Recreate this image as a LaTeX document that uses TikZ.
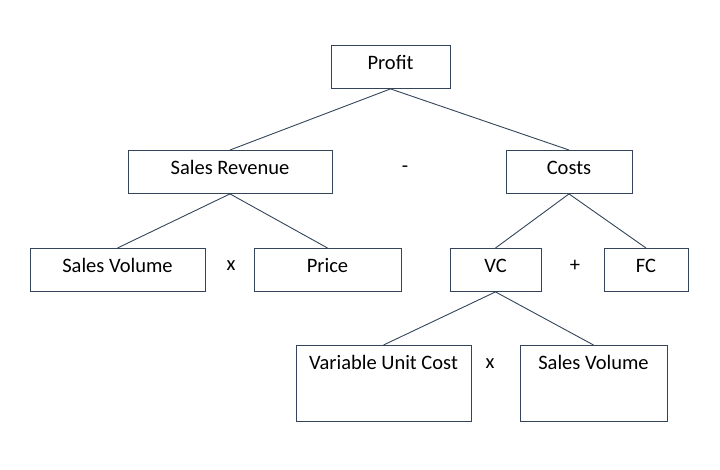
\documentclass[tikz,border=0pt]{standalone}
\usepackage{fontspec}
\setmainfont{Carlito}
\usepackage{tikz}
\usetikzlibrary{positioning}
\definecolor{ink}{HTML}{34445A}
\tikzset{
  box/.style={draw=ink,line width=0.9pt,inner sep=0pt,text height=24pt,text depth=19pt,anchor=north,font=\fontsize{20.5}{22}\selectfont},
  tallbox/.style={box,text depth=52pt},
  op/.style={font=\fontsize{20.5}{22}\selectfont},
  link/.style={draw=ink,line width=0.9pt}}
\begin{document}
\begin{tikzpicture}[x=1pt,y=-1pt]
  \useasboundingbox (0,0) rectangle (720,469);
  % top level
  \node[box,minimum width=119pt] (profit) at (390.5,45) {Profit};
  % second level
  \node[box,minimum width=204pt] (rev) at (230,150) {Sales Revenue};
  \node[box,minimum width=126pt] (costs) at (569,150) {Costs};
  \node[op] (minus) at (405,169) {-};
  % third level
  \node[box,minimum width=175pt] (vol) at (117.5,248) {Sales Volume};
  \node[box,minimum width=147pt] (price) at (327.5,248) {Price};
  \node[op] (times1) at (231,266) {x};
  \node[box,minimum width=91pt] (vc) at (495.5,248) {VC};
  \node[box,minimum width=84pt] (fc) at (646,248) {FC};
  \node[op] (plus) at (575,266) {+};
  % fourth level
  \node[tallbox,minimum width=175pt] (unit) at (383.5,345) {Variable Unit Cost};
  \node[tallbox,minimum width=147pt] (vol2) at (593.5,345) {Sales Volume};
  \node[op] (times2) at (490,364) {x};
  % links
  \draw[link] (profit.south)--(rev.north);
  \draw[link] (profit.south)--(costs.north);
  \draw[link] (rev.south)--(vol.north);
  \draw[link] (rev.south)--(price.north);
  \draw[link] (costs.south)--(vc.north);
  \draw[link] (costs.south)--(fc.north);
  \draw[link] (vc.south)--(unit.north);
  \draw[link] (vc.south)--(vol2.north);
\end{tikzpicture}
\end{document}
